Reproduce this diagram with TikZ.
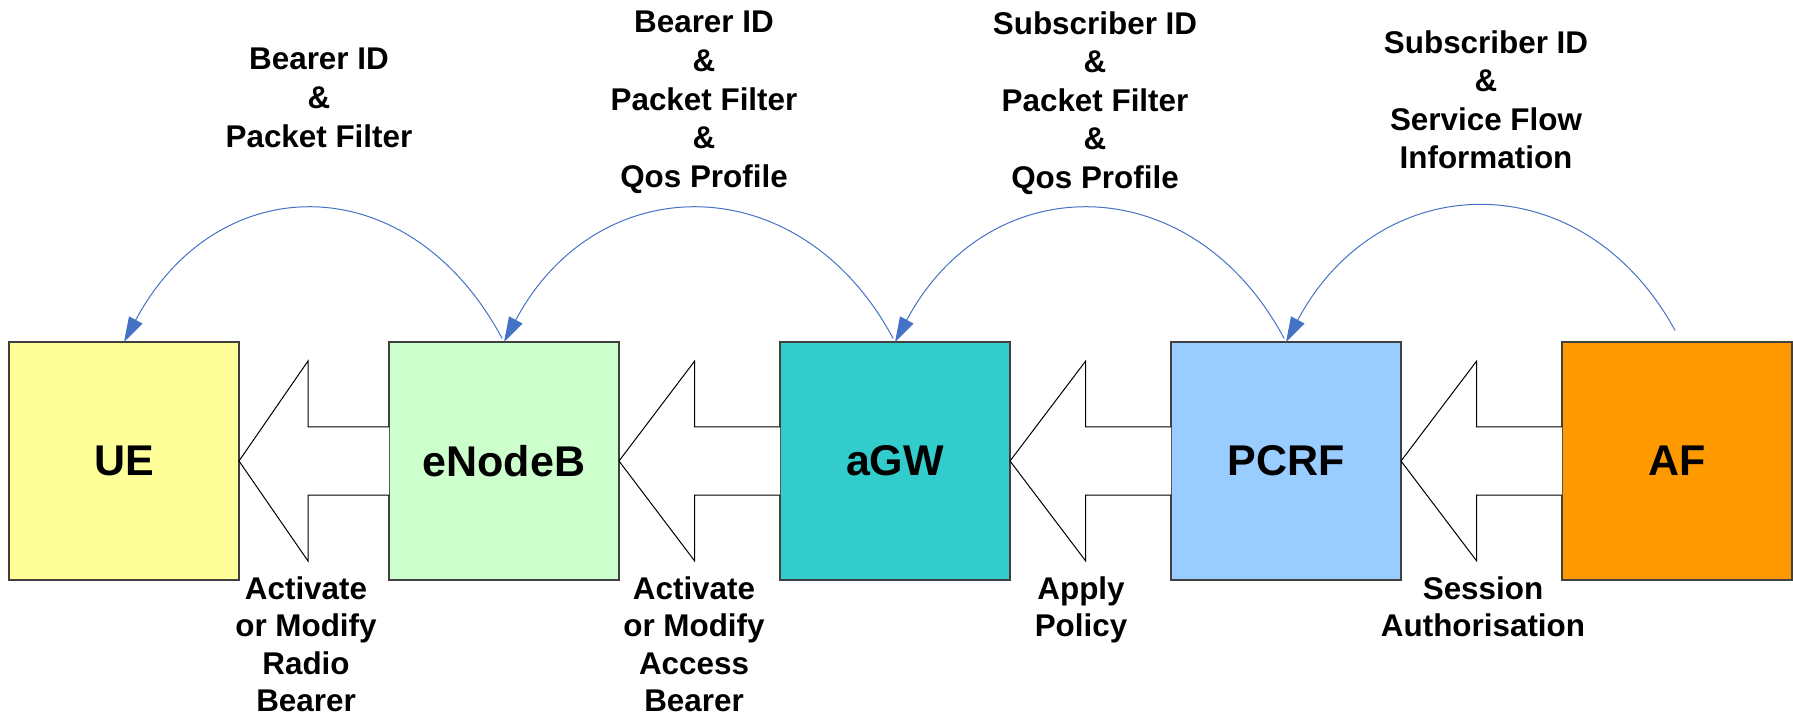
\documentclass[tikz,border=0pt]{standalone}
\usepackage{fontspec}
\setmainfont{Liberation Sans}
\usepackage{xcolor}
\usepackage{tikz}
\usetikzlibrary{calc, arrows.meta}
\tikzset{>={Triangle[length=12.5pt, width=7.5pt]}}
\definecolor{uefill}{HTML}{FFFF99}
\definecolor{enbfill}{HTML}{CCFFCC}
\definecolor{agwfill}{HTML}{33CCCC}
\definecolor{pcrffill}{HTML}{99CCFF}
\definecolor{affill}{HTML}{FF9900}
\definecolor{sigblue}{HTML}{4472C4}

\begin{document}
\begin{tikzpicture}[x=0.5pt, y=-0.5pt,
    box/.style={draw=black!75, line width=0.7pt, minimum width=115pt, minimum height=119pt,
        inner sep=0pt, outer sep=0pt, font=\fontsize{21.5}{25}\selectfont\bfseries},
    blockarrow/.style={draw=black, fill=white, line width=0.5pt, line join=miter},
    signal/.style={->, draw=sigblue, line width=0.5pt, shorten <=2pt},
    note/.style={align=center, inner sep=0pt, anchor=north,
        font=\fontsize{15.7}{18.75}\selectfont\bfseries},
    topnote/.style={note, font=\fontsize{15.7}{19.3}\selectfont\bfseries}]
    \useasboundingbox (0,0) rectangle (1793,716);

    % Coordinates
    \coordinate (UEpos) at (124,461);
    \coordinate (ENBpos) at (504,461);
    \coordinate (AGWpos) at (895,461);
    \coordinate (PCRFpos) at (1286,461);
    \coordinate (AFpos) at (1677,461);

    % Boxes
    \node[box, fill=uefill] (UE) at (UEpos) {UE};
    \node[box, fill=enbfill] (eNodeB) at (ENBpos) {eNodeB};
    \node[box, fill=agwfill] (aGW) at (AGWpos) {aGW};
    \node[box, fill=pcrffill] (PCRF) at (PCRFpos) {PCRF};
    \node[box, fill=affill] (AF) at (AFpos) {AF};

    % Block arrows
    \coordinate (h1) at ($(UE.east)!0.46!(eNodeB.west)$);
    \coordinate (h2) at ($(eNodeB.east)!0.47!(aGW.west)$);
    \coordinate (h3) at ($(aGW.east)!0.47!(PCRF.west)$);
    \coordinate (h4) at ($(PCRF.east)!0.47!(AF.west)$);
    \draw[blockarrow] ($(eNodeB.west)+(0,-34)$) -- ($(h1)+(0,-34)$) -- ($(h1)+(0,-100)$) -- (UE.east)
        -- ($(h1)+(0,100)$) -- ($(h1)+(0,34)$) -- ($(eNodeB.west)+(0,34)$);
    \draw[blockarrow] ($(aGW.west)+(0,-34)$) -- ($(h2)+(0,-34)$) -- ($(h2)+(0,-100)$) -- (eNodeB.east)
        -- ($(h2)+(0,100)$) -- ($(h2)+(0,34)$) -- ($(aGW.west)+(0,34)$);
    \draw[blockarrow] ($(PCRF.west)+(0,-34)$) -- ($(h3)+(0,-34)$) -- ($(h3)+(0,-100)$) -- (aGW.east)
        -- ($(h3)+(0,100)$) -- ($(h3)+(0,34)$) -- ($(PCRF.west)+(0,34)$);
    \draw[blockarrow] ($(AF.west)+(0,-34)$) -- ($(h4)+(0,-34)$) -- ($(h4)+(0,-100)$) -- (PCRF.east)
        -- ($(h4)+(0,100)$) -- ($(h4)+(0,34)$) -- ($(AF.west)+(0,34)$);

    % Signalling arcs
    \draw[signal] (eNodeB.north) .. controls +(-94,-176) and +(94,-176) .. (UE.north);
    \draw[signal] (aGW.north) .. controls +(-94,-176) and +(94,-176) .. (eNodeB.north);
    \draw[signal] (PCRF.north) .. controls +(-94,-176) and +(94,-176) .. (aGW.north);
    \draw[signal] ([yshift=4pt]AF.north) .. controls +(-94,-172) and +(94,-176) .. (PCRF.north);

    % Text above
    \node[topnote] (t1) at (319,48) {Bearer ID\\\&\\Packet Filter};
    \node[topnote] (t2) at (704,11) {Bearer ID\\\&\\Packet Filter\\\&\\Qos Profile};
    \node[topnote] (t3) at (1095,11) {Subscriber ID\\\&\\Packet Filter\\\&\\Qos Profile};
    \node[topnote] (t4) at (1486,30) {Subscriber ID\\\&\\Service Flow\\Information};

    % Text below
    \node[note] (b1) at (306,576) {Activate\\or Modify\\Radio\\Bearer};
    \node[note] (b2) at (694,576) {Activate\\or Modify\\Access\\Bearer};
    \node[note] (b3) at (1081,576) {Apply\\Policy};
    \node[note] (b4) at (1483,576) {Session\\Authorisation};
\end{tikzpicture}
\end{document}
